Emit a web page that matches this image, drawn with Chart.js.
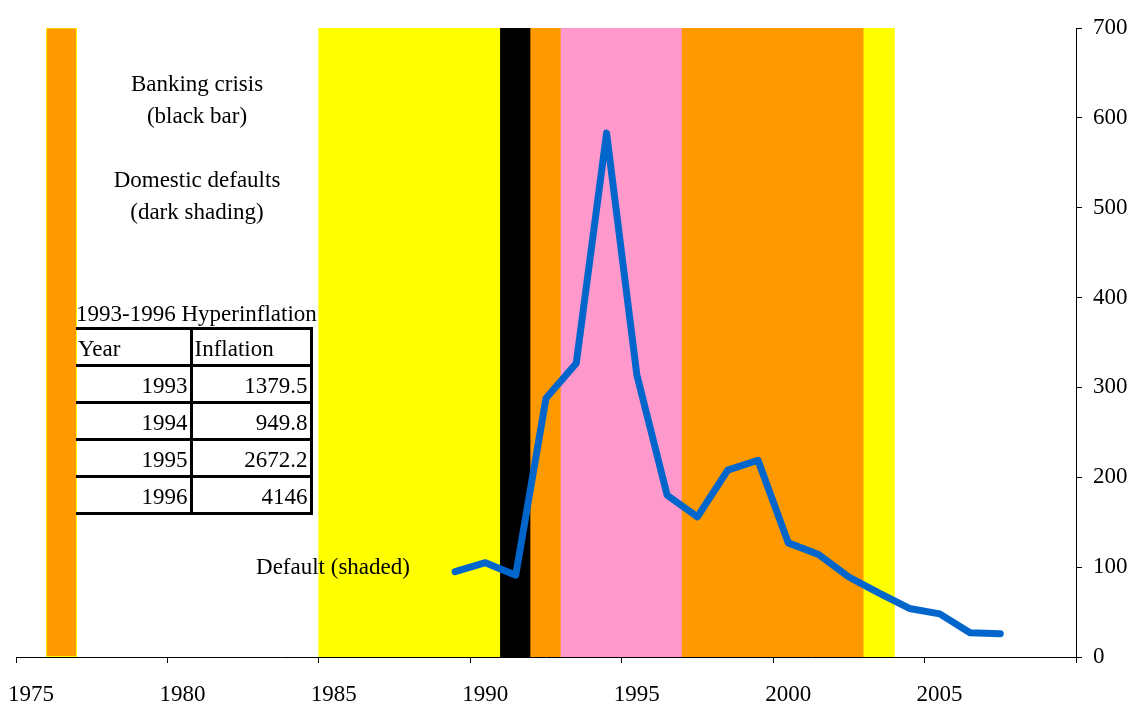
<!DOCTYPE html>
<html><head><meta charset="utf-8">
<script src="https://cdn.jsdelivr.net/npm/chart.js@4/dist/chart.umd.min.js"></script>
<style>
html,body{margin:0;padding:0;background:#fff;}
#wrap{position:relative;width:1131px;height:705px;overflow:hidden;font-family:"Liberation Serif","Times New Roman",serif;color:#000;}
canvas{position:absolute;left:0;top:0;}
.note{position:absolute;font-size:23px;line-height:32px;text-align:center;white-space:nowrap;}
#title{position:absolute;left:76px;top:298px;font-size:23px;line-height:32px;white-space:nowrap;}
#tbl{position:absolute;left:76px;top:327px;border-collapse:collapse;font-size:23px;table-layout:fixed;}
#tbl td{border:3px solid #000;padding:0 2px;height:34px;line-height:34px;box-sizing:border-box;white-space:nowrap;}
#tbl td span{position:relative;top:2px;}
#tbl td:first-child{border-left:none;}
#tbl td.num{text-align:right;}
</style></head>
<body><div id="wrap"><canvas id="c" width="1131" height="705"></canvas>
<div class="note" style="left:97px;top:68px;width:200px;">Banking crisis<br>(black bar)</div>
<div class="note" style="left:97px;top:164px;width:200px;">Domestic defaults<br>(dark shading)</div>
<div class="note" style="left:233px;top:551px;width:200px;">Default (shaded)</div>
<div id="title">1993-1996 Hyperinflation</div>
<table id="tbl"></table>
</div>
<script>
// ---- data ----
const bandYears  = [1976,1985,1986,1987,1988,1989,1990,1991,1992,1993,1994,1995,1996,1997,1998,1999,2000,2001,2002,2003];
const bandValues = [700,700,700,700,700,700,700,700,700,700,700,700,700,700,700,700,700,700,700,700];
const bandKinds  = ['dom','def','def','def','def','def','def','bank','dom','hyper','hyper','hyper','hyper','dom','dom','dom','dom','dom','dom','def'];
const lineYears  = [1989,1990,1991,1992,1993,1994,1995,1996,1997,1998,1999,2000,2001,2002,2003,2004,2005,2006,2007];
const inflation  = [95,105,91,288,327,583,314,180,156,208,219,127,114,89,71,54,48,27,26];
const tableYears = [1993,1994,1995,1996];
const tableInfl  = ['1379.5','949.8','2672.2','4146'];
const xTicks     = [1975,1980,1985,1990,1995,2000,2005];

// ---- styles ----
const kindColor = {dom:'#FF9900', def:'#FFFF00', bank:'#000000', hyper:'#FF99CC'};
const FONT = {family:'"Liberation Serif","Times New Roman",serif', size:23};

// table
const tbl = document.getElementById('tbl');
let html = '<colgroup><col style="width:115px"><col style="width:120px"></colgroup>';
html += '<tr><td><span>Year</span></td><td><span>Inflation</span></td></tr>';
tableYears.forEach((y,i)=>{ html += '<tr><td class="num"><span>'+y+'</span></td><td class="num"><span>'+tableInfl[i]+'</span></td></tr>'; });
tbl.innerHTML = html;

const bandData = bandYears.map((y,i)=>({x:y+0.5, y:bandValues[i]}));
const lineData = lineYears.map((y,i)=>({x:y+0.5, y:inflation[i]}));

new Chart(document.getElementById('c'), {
  data: {
    datasets: [
      {
        type:'line', order:0, data:lineData,
        borderColor:'#0066CC', borderWidth:7, pointRadius:0, tension:0,
        borderCapStyle:'round', borderJoinStyle:'round', yAxisID:'y', xAxisID:'x'
      },
      {
        type:'bar', order:1, data:bandData,
        backgroundColor: bandKinds.map(k=>kindColor[k]),
        borderColor: bandYears.map((y,i)=> i===0 ? '#FFFF00' : kindColor[bandKinds[i]]),
        borderWidth: bandYears.map((y,i)=> i===0 ? 1 : 0),
        borderSkipped:false,
        inflateAmount:0.5,
        barPercentage:1, categoryPercentage:1, grouped:false,
        yAxisID:'y', xAxisID:'x'
      }
    ]
  },
  options: {
    responsive:false, animation:false,
    layout:{padding:{left:16, top:28, right:0, bottom:0}},
    plugins:{legend:{display:false}, tooltip:{enabled:false}},
    events:[],
    scales:{
      x:{
        type:'linear', position:'bottom', min:1975, max:2010, offset:false,
        afterBuildTicks: s => { s.ticks = xTicks.concat([2010]).map(v=>({value:v})); },
        ticks:{ callback: v => xTicks.includes(v) ? String(v) : '', font:FONT, color:'#000', labelOffset:15, padding:18, maxRotation:0, autoSkip:false },
        grid:{ display:true, offset:false, drawOnChartArea:false, drawTicks:true, tickLength:6, color:'#000', lineWidth:1 },
        border:{ display:true, color:'#000', width:1 },
        afterFit: s => { s.height = 48; s.paddingLeft = 0; s.paddingRight = 0; }
      },
      y:{
        type:'linear', position:'right', min:0, max:700,
        ticks:{ stepSize:100, font:FONT, color:'#000', padding:11 },
        grid:{ display:true, drawOnChartArea:false, drawTicks:true, tickLength:6, color:'#000', lineWidth:1 },
        border:{ display:true, color:'#000', width:1 },
        afterFit: s => { s.width = 55; s.paddingTop = 0; s.paddingBottom = 0; }
      }
    }
  }
});
</script>
</body></html>
